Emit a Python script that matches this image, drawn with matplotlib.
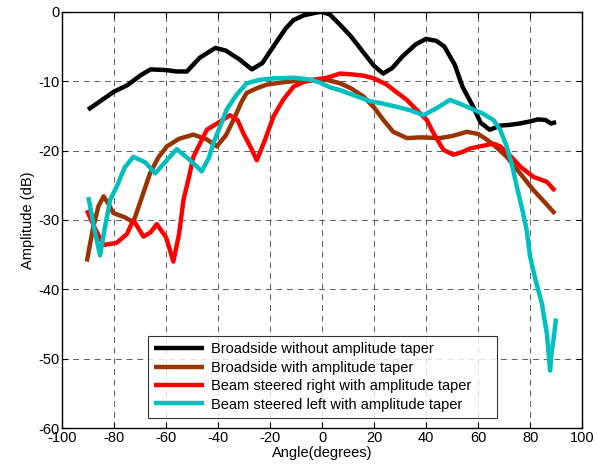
import matplotlib
matplotlib.use("Agg")
import matplotlib.pyplot as plt

plt.rcParams["font.family"] = ["Liberation Sans", "DejaVu Sans"]
plt.rcParams["axes.unicode_minus"] = False

# Broadside without amplitude taper
ang_black = [-90, -85, -80, -75, -70, -66, -60, -56, -52, -47, -41, -37, -32, -27, -23, -18, -14, -11, -7, -2, 0, 3, 7, 11, 16, 20, 23.5, 27, 31, 36, 40, 44, 47, 51, 54, 58, 61, 64.5, 68.5, 72, 76, 80, 83, 86, 88, 90]
amp_black = [-14.1, -12.8, -11.5, -10.6, -9.2, -8.3, -8.4, -8.6, -8.6, -6.6, -5.2, -5.6, -6.8, -8.3, -7.4, -4.6, -2.4, -1.2, -0.5, -0.1, 0.0, -0.4, -1.9, -3.5, -5.9, -7.8, -8.9, -8.1, -6.4, -4.7, -3.9, -4.2, -5.0, -7.6, -10.8, -13.6, -16.0, -17.0, -16.4, -16.3, -16.1, -15.8, -15.5, -15.6, -16.1, -15.9]

# Broadside with amplitude taper
ang_brown = [-90.5, -88, -86, -84, -82, -80.3, -76, -72.6, -70, -66.2, -63, -59.7, -55, -49.5, -44.3, -40.5, -37, -34.1, -31, -29, -25, -21.3, -16, -11, -5, 1.8, 6.9, 11, 15.9, 20, 24, 27.4, 32.6, 38, 45.4, 50, 55.7, 60, 63.3, 67, 71, 76, 81.3, 86, 89.6]
amp_brown = [-36.0, -31.0, -28.0, -26.6, -27.8, -29.0, -29.6, -30.3, -27.5, -23.3, -21.0, -19.4, -18.3, -17.7, -18.4, -19.4, -17.8, -15.6, -13.0, -11.7, -11.0, -10.5, -10.2, -10.0, -9.9, -9.8, -10.3, -11.0, -12.2, -13.8, -15.8, -17.3, -18.2, -18.1, -18.2, -17.9, -17.3, -17.6, -18.4, -19.5, -20.9, -23.2, -25.7, -27.6, -29.1]

# Beam steered right with amplitude taper
ang_red = [-90.5, -87, -84, -79, -75, -72.6, -68.7, -66, -63.6, -60, -57.2, -55, -53.3, -51, -49.5, -44.3, -40, -35.4, -32.5, -30.3, -27.5, -25.1, -22, -18.7, -15, -11, -7, -3.5, 2, 6.9, 11, 15.9, 20, 24.9, 28, 32.6, 36, 40.3, 43, 46.7, 50.5, 54, 56.9, 62, 65.9, 68.5, 72, 76.2, 81.3, 86.4, 89.6]
amp_red = [-28.6, -31.5, -33.6, -33.3, -32.0, -30.0, -32.4, -31.8, -30.6, -32.5, -36.0, -32.0, -27.1, -23.5, -20.9, -17.0, -16.0, -14.9, -15.6, -17.5, -19.5, -21.4, -18.5, -15.1, -12.7, -10.8, -10.1, -9.8, -9.5, -8.9, -9.0, -9.2, -9.6, -10.5, -11.4, -12.7, -14.0, -15.6, -17.6, -19.9, -20.6, -20.2, -19.7, -19.3, -19.0, -19.4, -20.6, -22.3, -23.8, -24.5, -25.8]

# Beam steered left with amplitude taper
ang_cyan = [-89.9, -87.5, -85.4, -83.5, -81.5, -79, -76, -72.6, -68, -64.2, -60, -55.9, -51, -46.3, -43.5, -41.8, -39, -36.7, -33, -29, -24, -18.7, -11, -4, -0.8, 3.1, 6.9, 12, 18.5, 23, 28.7, 34, 39, 44, 49.2, 54, 58.2, 62, 65.9, 68.5, 71, 73, 74.9, 77, 78.7, 80, 82, 84.5, 86.5, 87.7, 88.3, 89, 90]
amp_cyan = [-26.7, -31.5, -35.1, -31.0, -27.1, -25.2, -22.5, -20.9, -21.7, -23.3, -21.5, -19.8, -21.3, -23.0, -21.0, -18.9, -16.3, -14.1, -12.0, -10.3, -9.8, -9.6, -9.5, -9.8, -10.2, -10.9, -11.3, -12.0, -12.9, -13.2, -13.7, -14.2, -14.9, -13.9, -12.7, -13.4, -14.1, -14.7, -15.6, -17.0, -19.4, -22.0, -25.2, -28.5, -31.5, -35.3, -38.5, -42.0, -46.5, -51.7, -49.0, -47.3, -44.2]

LABELS = [
    "Broadside without amplitude taper",
    "Broadside with amplitude taper",
    "Beam steered right with amplitude taper",
    "Beam steered left with amplitude taper",
]
COLORS = ["#000000", "#993300", "#ff0000", "#00bfbf"]

fig = plt.figure(figsize=(5.97, 4.72), dpi=100)
ax = fig.add_axes([0.104, 0.093, 0.871, 0.882])

series = [(ang_black, amp_black), (ang_brown, amp_brown), (ang_red, amp_red), (ang_cyan, amp_cyan)]
for (x, y), lab, col in zip(series, LABELS, COLORS):
    ax.plot(x, y, color=col, linewidth=3.2, label=lab, solid_capstyle="butt")

ax.set_xlim(-100, 100)
ax.set_ylim(-60, 0)
ax.set_xticks(range(-100, 101, 20))
ax.set_yticks(range(-60, 1, 10))
ax.grid(True, color="#333333", linestyle=(0, (6, 5)), linewidth=0.7, alpha=0.8)
ax.tick_params(direction="in", labelsize=10.5, length=4, pad=2, top=True, right=True)
for s in ax.spines.values():
    s.set_linewidth(1.0)
ax.set_xlabel("Angle(degrees)", fontsize=10.5, labelpad=1)
ax.set_ylabel("Amplitude (dB)", fontsize=10.5, labelpad=2)

leg = ax.legend(loc="lower left", bbox_to_anchor=(0.165, 0.024, 0.671, 0.232), mode="expand",
                fontsize=10.5, frameon=True, fancybox=False, borderaxespad=0,
                handlelength=3.4, handletextpad=0.5, labelspacing=0.3, borderpad=0.45)
leg.get_frame().set_edgecolor("black")
leg.get_frame().set_linewidth(0.8)

fig.savefig("out.png", dpi=100)
